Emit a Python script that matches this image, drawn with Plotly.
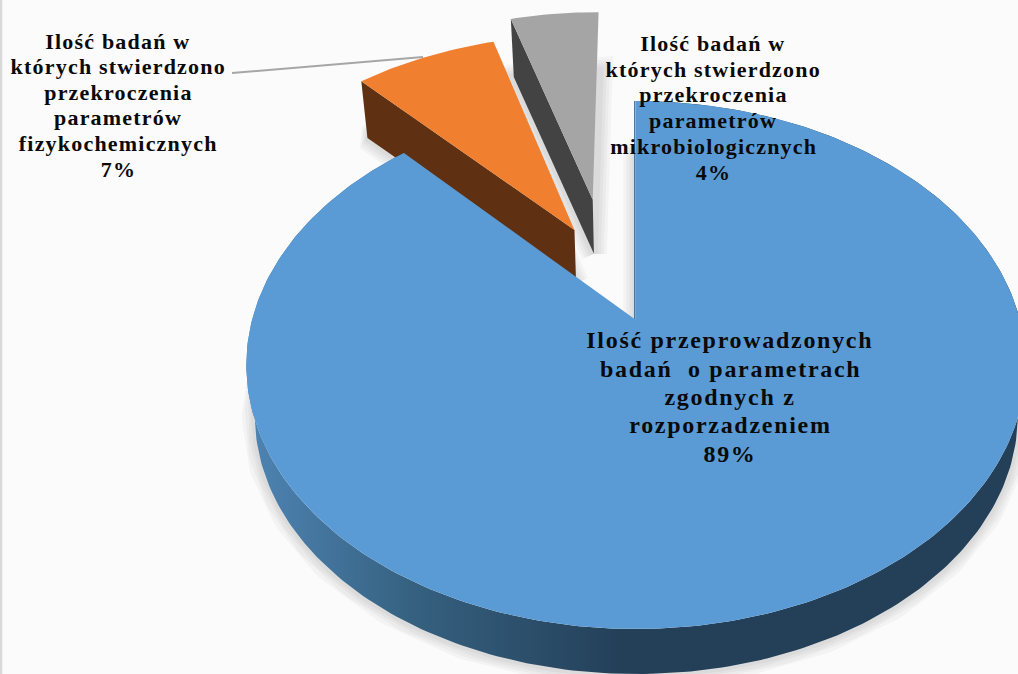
import math
import plotly.graph_objects as go

# Slice shares as measured on the picture (degrees of the drawn pie follow these)
categories = ["zgodne", "fizykochemiczne", "mikrobiologiczne"]
slice_shares = [88.1, 7.3, 4.6]
explode = [0.0, 0.411, 0.525]
explode_angle = [0.0, 335.5, 346.5]
face_colors = ["#5B9BD5", "#F08030", "#A5A5A5"]
side_colors = ["#244059", "#5F3112", "#434343"]

label_fizy = ["Ilość badań w", "których stwierdzono", "przekroczenia", "parametrów", "fizykochemicznych", "7%"]
label_mikro = ["Ilość badań w", "których stwierdzono", "przekroczenia", "parametrów", "mikrobiologicznych", "4%"]
label_main = ["Ilość przeprowadzonych", "badań\u00a0 o parametrach", "zgodnych z", "rozporzadzeniem", "89%"]

W, H = 1018, 674
CX, CY, A, B, K = 636.0, 320.0, 384.0, 256.3, 0.1705
DEPTH, VX, VY = 0.0212, 650.0, 2755.0


def project(X, Y):
    s = 1.0 / (1.0 + K * Y)
    return CX + A * X * s, CY - B * Y * s


def wedge(start, end, ex, exa):
    ox = ex * math.sin(math.radians(exa))
    oy = ex * math.cos(math.radians(exa))
    n = max(8, int(abs(end - start)))
    arc = [project(ox + math.sin(math.radians(start + (end - start) * i / n)),
                   oy + math.cos(math.radians(start + (end - start) * i / n))) for i in range(n + 1)]
    return project(ox, oy), arc


def lower(p):
    return p[0] + DEPTH * (VX - p[0]), p[1] + DEPTH * (VY - p[1])


def xy(pts):
    return [p[0] for p in pts], [p[1] for p in pts]


angles = []
a0 = 0.0
for share in slice_shares:
    angles.append((a0, a0 + share * 3.6))
    a0 += share * 3.6

fig = go.Figure()
wedges = [wedge(angles[i][0], angles[i][1], explode[i], explode_angle[i]) for i in range(3)]

# soft drop shadows, from the lower face of each slice
for i in range(3):
    apex, arc = wedges[i]
    outline = [lower(p) for p in [apex] + arc + [apex]]
    x, y = xy(outline)
    for width in (26, 20, 14, 8):
        fig.add_trace(go.Scatter(x=x, y=y, mode="lines", hoverinfo="skip", showlegend=False,
                                 line=dict(color="rgba(0,0,0,0.03)", width=width)))

# leader line of the orange slice
fig.add_trace(go.Scatter(x=[232, 423], y=[73, 57], mode="lines", showlegend=False, hoverinfo="skip",
                         line=dict(color="#A6A6A6", width=2)))

# draw from back to front: grey, orange, blue
for i in (2, 1, 0):
    apex, arc = wedges[i]
    low_arc = [lower(p) for p in arc]
    low_apex = lower(apex)
    if i == 0:
        # visible outer wall of the blue slice, with its gradient
        sx, sy = xy(arc + low_arc[::-1] + [arc[0]])
        fig.add_trace(go.Scatter(
            x=sx, y=sy, mode="lines", fill="toself", showlegend=False, hoverinfo="skip",
            line=dict(width=0), fillcolor=side_colors[0],
            fillgradient=dict(type="horizontal", start=250, stop=620,
                              colorscale=[[0, "#4E84B3"], [0.45, "#35607F"], [1, "#244059"]])))
        # thin wall seen along the straight edge at twelve o'clock
        ex, ey = xy([(apex[0] - 1.2, apex[1]), (arc[0][0] - 1.2, arc[0][1])])
        fig.add_trace(go.Scatter(x=ex, y=ey, mode="lines", showlegend=False, hoverinfo="skip",
                                 line=dict(color="#46739A", width=1.5)))
    else:
        # wall along the left straight edge of the exploded slices
        left = arc[0]
        sx, sy = xy([apex, left, lower(left), low_apex, apex])
        fig.add_trace(go.Scatter(x=sx, y=sy, mode="lines", fill="toself", showlegend=False,
                                 hoverinfo="skip", line=dict(width=0), fillcolor=side_colors[i]))
    fx, fy = xy([apex] + arc + [apex])
    fig.add_trace(go.Scatter(x=fx, y=fy, mode="lines", fill="toself", name=categories[i],
                             showlegend=False, hoverinfo="skip",
                             line=dict(width=0), fillcolor=face_colors[i]))

font_small = dict(family="Liberation Serif", size=22, color="#0A0A0A")
font_big = dict(family="Liberation Serif", size=24, color="#0A0A0A")
blocks = [
    (label_fizy, 118, [41, 66, 92, 117, 143, 169], font_small),
    (label_mikro, 713, [43, 69, 94, 120, 146, 172], font_small),
    (label_main, 730, [340, 369, 397, 425, 454], font_big),
]
for lines, x, ys, font in blocks:
    for line, y in zip(lines, ys):
        fig.add_annotation(x=x, y=y, xref="x", yref="y", text="<b>%s</b>" % line, showarrow=False,
                           font=font, align="center", xanchor="center", yanchor="middle")

fig.update_layout(
    width=W, height=H, margin=dict(l=0, r=0, t=0, b=0),
    paper_bgcolor="#FBFBFB", plot_bgcolor="#FBFBFB", showlegend=False,
    xaxis=dict(range=[0, W], visible=False, fixedrange=True),
    yaxis=dict(range=[H, 0], visible=False, fixedrange=True),
    shapes=[dict(type="line", xref="paper", yref="paper", x0=0.001, x1=0.001, y0=0, y1=1,
                 line=dict(color="#D9D9D9", width=2.5))],
)
post = """
document.body.style.margin='0';document.body.style.overflow='hidden';
document.querySelectorAll('text.annotation-text').forEach(function(t){
  t.style.letterSpacing = parseFloat(t.style.fontSize) > 23 ? '1.7px' : '1.2px';
});
"""
fig.write_html("out.html", config=dict(displayModeBar=False), post_script=post)
